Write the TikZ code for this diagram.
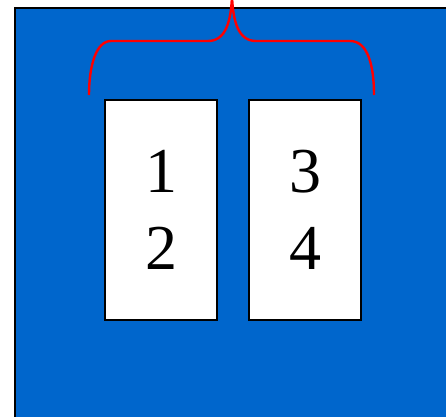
\documentclass[tikz,border=0pt]{standalone}
\usepackage{fontspec}
\setmainfont{Liberation Serif}
\usepackage{tikz}

\definecolor{panelblue}{HTML}{0066CC}
\definecolor{bracered}{HTML}{FF0000}

\begin{document}
\begin{tikzpicture}[x=1pt, y=1pt,
	every node/.style={font=\fontsize{64}{77}\selectfont},
	card/.style={draw=black, line width=2pt, fill=white, minimum width=112pt, minimum height=220pt, inner sep=0pt, align=center}]
	\useasboundingbox (0,0) rectangle (446,416);
	\fill[panelblue, draw=black, line width=2pt] (15,-5) rectangle (452,408);
	\node[card] (left) at (161,206) {1\\2};
	\node[card] (right) at (305,206) {3\\4};
	% brace over both cards
	\draw[bracered, line width=2.4pt]
		(89,321) .. controls (89,350) and (96,375) .. (111,375) -- (208,375)
		.. controls (226,375) and (231,395) .. (232,420)
		.. controls (233,395) and (238,375) .. (256,375) -- (350,375)
		.. controls (368,375) and (374,350) .. (374,321);
\end{tikzpicture}
\end{document}
